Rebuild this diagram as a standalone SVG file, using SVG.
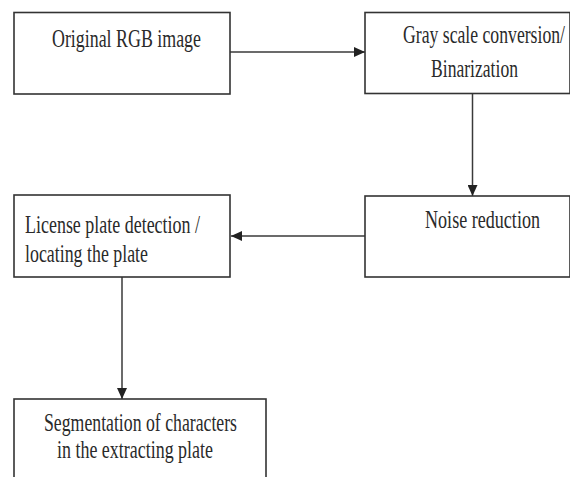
<svg xmlns="http://www.w3.org/2000/svg" width="570" height="477" viewBox="0 0 570 477">
<style>
.box{fill:#ffffff;stroke:#333333;stroke-width:1.6}
.lbl{font-family:"Liberation Serif","Times New Roman",serif;font-size:26px;fill:#2a2a2a}
.edge{stroke:#3a3a3a;stroke-width:1.5;fill:none}
</style>
<defs>
<marker id="arr" viewBox="0 0 11 10" refX="11" refY="5" markerWidth="11" markerHeight="10" markerUnits="userSpaceOnUse" orient="auto">
<path d="M0,0 L11,5 L0,10 z" fill="#222222"/>
</marker>
</defs>
<rect width="570" height="477" fill="#ffffff"/>
<g id="connectors">
<line class="edge" x1="230" y1="52" x2="365" y2="52" marker-end="url(#arr)"/>
<line class="edge" x1="472.5" y1="94" x2="472.5" y2="196" marker-end="url(#arr)"/>
<line class="edge" x1="365" y1="236" x2="231" y2="236" marker-end="url(#arr)"/>
<line class="edge" x1="122" y1="277" x2="122" y2="399" marker-end="url(#arr)"/>
</g>
<g id="node-original">
<rect class="box" x="14" y="12.5" width="216" height="81.5"/>
<text class="lbl" x="52" y="47" textLength="149" lengthAdjust="spacingAndGlyphs">Original RGB image</text>
</g>
<g id="node-grayscale">
<rect class="box" x="365" y="12.5" width="205" height="81"/>
<text class="lbl" x="403" y="43" textLength="162" lengthAdjust="spacingAndGlyphs">Gray scale conversion/</text>
<text class="lbl" x="431" y="77" textLength="87" lengthAdjust="spacingAndGlyphs">Binarization</text>
</g>
<g id="node-noise">
<rect class="box" x="365" y="196" width="205" height="81"/>
<text class="lbl" x="425" y="228" textLength="115" lengthAdjust="spacingAndGlyphs">Noise reduction</text>
</g>
<g id="node-license">
<rect class="box" x="14" y="195" width="216" height="82"/>
<text class="lbl" x="25" y="233" textLength="175" lengthAdjust="spacingAndGlyphs">License plate detection /</text>
<text class="lbl" x="25" y="262" textLength="123" lengthAdjust="spacingAndGlyphs">locating the plate</text>
</g>
<g id="node-segmentation">
<rect class="box" x="14" y="399" width="252" height="100"/>
<text class="lbl" x="44" y="431" textLength="193" lengthAdjust="spacingAndGlyphs">Segmentation of characters</text>
<text class="lbl" x="57" y="458" textLength="156" lengthAdjust="spacingAndGlyphs">in the extracting plate</text>
</g>
</svg>
